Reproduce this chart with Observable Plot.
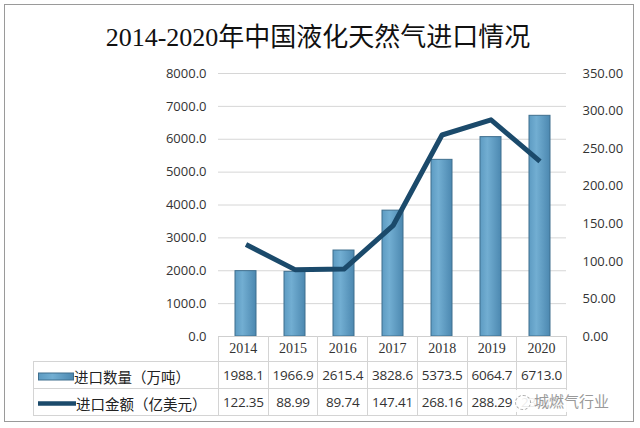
<!DOCTYPE html>
<html><head><meta charset="utf-8">
<script src="https://cdn.jsdelivr.net/npm/d3@7"></script>
<script src="https://cdn.jsdelivr.net/npm/@observablehq/plot@0.6"></script>
<style>
  html,body{margin:0;padding:0;background:#fff;width:640px;height:428px;overflow:hidden;}
  #frame{position:absolute;left:4px;top:4px;width:630px;height:418px;box-sizing:border-box;border:1px solid #9a9a9a;}
  #title{position:absolute;left:0;top:22px;width:636px;text-align:center;font-family:"Liberation Serif","Noto Sans CJK SC",serif;font-size:26px;line-height:32px;color:#111;white-space:nowrap;}
  #chart{position:absolute;left:0;top:60px;}
  #chart svg{overflow:visible;}
  #table{position:absolute;left:33px;top:336px;}
  table{border-collapse:collapse;table-layout:fixed;}
  td{padding:0;text-align:center;white-space:nowrap;overflow:visible;}
  .yr{font-family:"Liberation Serif",serif;font-size:14px;color:#333;height:24px;border-left:1px solid #d4d4d4;border-right:1px solid #d4d4d4;border-top:1px solid #cfcfcf;}
  .val{font-family:"Open Sans",sans-serif;font-size:13.5px;color:#333;height:26px;border:1px solid #d4d4d4;letter-spacing:-0.2px;}
  .lab{border:1px solid #d4d4d4;height:26px;text-align:left;font-family:"Noto Sans CJK SC",sans-serif;font-size:14.5px;color:#222;}
  .lab span{vertical-align:middle;}
  .sw{display:inline-block;vertical-align:middle;margin-left:4px;}
  #wm{position:absolute;left:513px;top:390px;width:112px;height:22px;background:rgba(255,255,255,0.9);font-family:"Noto Sans CJK SC",sans-serif;font-size:15px;line-height:22px;color:#9a9a9a;white-space:nowrap;}
  #wm i{display:inline-block;width:14px;height:13px;border:1px dashed #aaa;border-radius:50%;vertical-align:middle;margin:0 3px 0 2px;}
</style></head>
<body>
<div id="frame"></div>
<div id="title">2014-2020年中国液化天然气进口情况</div>
<div id="chart"></div>
<div id="table"></div>
<div id="wm"><i></i>城燃气行业</div>
<script>
const years = ["2014","2015","2016","2017","2018","2019","2020"];
const volumes = [1988.1, 1966.9, 2615.4, 3828.6, 5373.5, 6064.7, 6713.0];
const amounts = [122.35, 88.99, 89.74, 147.41, 268.16, 288.29, 233.0];
const leftTicks = [0,1000,2000,3000,4000,5000,6000,7000,8000];
const rightTicks = [0,50,100,150,200,250,300,350];
const seriesNames = ["进口数量（万吨）","进口金额（亿美元）"];

const leftMax = 8000, rightMax = 350;
const toLeft = v => v * leftMax / rightMax;

const barData = years.map((y,i)=>({year:y, value:volumes[i]}));
const lineData = years.map((y,i)=>({year:y, value:toLeft(amounts[i])}));

const defs = () => {
  const d = d3.create("svg:defs");
  const g = d.append("linearGradient").attr("id","barGrad").attr("x1","0").attr("x2","1").attr("y1","0").attr("y2","0");
  g.append("stop").attr("offset","0%").attr("stop-color","#5d9bc2");
  g.append("stop").attr("offset","35%").attr("stop-color","#72aed2");
  g.append("stop").attr("offset","100%").attr("stop-color","#4c88b0");
  return d.node();
};

const chart = Plot.plot({
  width: 640,
  height: 286,
  marginTop: 13,
  marginBottom: 10,
  marginLeft: 218,
  marginRight: 74,
  style: {fontFamily: "'Open Sans', sans-serif", fontSize: "13px", color: "#333", background: "transparent", overflow: "visible"},
  x: {domain: years, paddingInner: 0.58, paddingOuter: 0.29, axis: null},
  y: {domain: [0, leftMax], axis: null},
  marks: [
    defs,
    Plot.gridY(leftTicks, {stroke: "#d6d6d6", strokeOpacity: 1}),
    Plot.axisY(leftTicks, {anchor: "left", label: null, tickSize: 0, tickPadding: 12, tickFormat: d => d.toFixed(1), fill: "#333"}),
    Plot.axisY(rightTicks.map(toLeft), {anchor: "right", label: null, tickSize: 0, tickPadding: 16, tickFormat: d => (d * rightMax / leftMax).toFixed(2), fill: "#333"}),
    Plot.barY(barData, {x: "year", y: "value", fill: "url(#barGrad)", stroke: "#3f6f8e", strokeWidth: 1}),
    Plot.line(lineData, {x: "year", y: "value", stroke: "#1b4a6b", strokeWidth: 5, strokeLinejoin: "round", strokeLinecap: "butt"})
  ]
});
document.getElementById("chart").appendChild(chart);

// data table under the chart, columns aligned with the band scale
const colW = 348 / years.length;
const swBar = '<svg class="sw" width="36" height="9"><defs><linearGradient id="g2" x1="0" x2="1"><stop offset="0" stop-color="#5d9bc2"/><stop offset="0.4" stop-color="#72aed2"/><stop offset="1" stop-color="#4c88b0"/></linearGradient></defs><rect x="0.5" y="1" width="35" height="7" fill="url(#g2)" stroke="#3f6f8e"/></svg>';
const swLine = '<svg class="sw" width="38" height="9"><line x1="0" x2="38" y1="4.5" y2="4.5" stroke="#1b4a6b" stroke-width="4.5" stroke-linecap="round"/></svg>';
let html = '<table><colgroup><col style="width:185px">' + years.map(()=>`<col style="width:${colW}px">`).join("") + '</colgroup>';
html += '<tr><td style="height:24px"></td>' + years.map(y=>`<td class="yr">${y}</td>`).join("") + '</tr>';
html += `<tr><td class="lab">${swBar}<span>${seriesNames[0]}</span></td>` + volumes.map(v=>`<td class="val">${v.toFixed(1)}</td>`).join("") + '</tr>';
html += `<tr><td class="lab">${swLine}<span>${seriesNames[1]}</span></td>` + amounts.map(v=>`<td class="val">${v.toFixed(2)}</td>`).join("") + '</tr>';
html += '</table>';
document.getElementById("table").innerHTML = html;
</script>
</body></html>
